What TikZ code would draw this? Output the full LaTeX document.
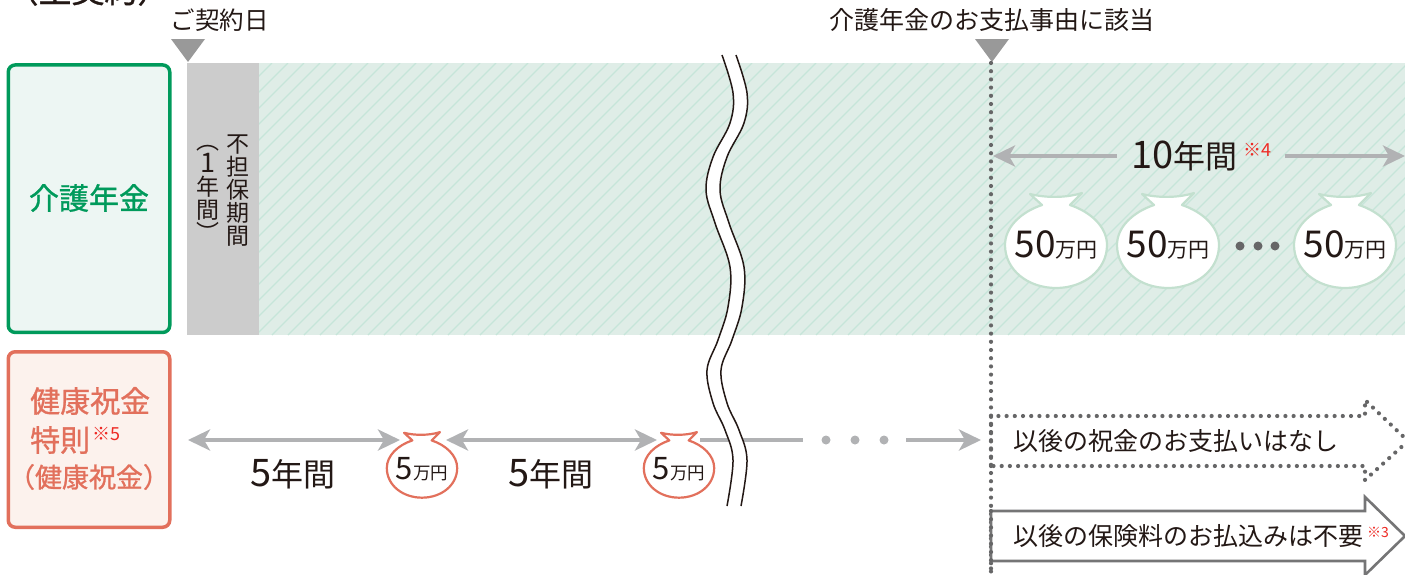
\documentclass[tikz,border=0pt]{standalone}
\usepackage{fontspec}
\usetikzlibrary{arrows.meta}
\setmainfont{Noto Sans CJK JP}
\newfontfamily\digitfont[FakeStretch=1.0]{Noto Sans CJK JP}
\newfontfamily\midfont[FakeBold=1.0]{Noto Sans CJK JP}
\newcommand{\fsize}[1]{\fontsize{#1}{#1}\selectfont}
\definecolor{inkblack}{HTML}{231815}
\definecolor{carebox}{HTML}{009A5B}
\definecolor{carefill}{HTML}{EDF6F3}
\definecolor{careband}{HTML}{DFEDE7}
\definecolor{carehatch}{HTML}{C6E5D9}
\definecolor{bagline}{HTML}{C3E0CF}
\definecolor{giftbox}{HTML}{E2705C}
\definecolor{giftfill}{HTML}{FCF2ED}
\definecolor{spangray}{HTML}{B1B2B4}
\definecolor{dotgray}{HTML}{666667}
\definecolor{notered}{HTML}{EE2A24}
\tikzset{
  every node/.style={text=inkblack, inner sep=0pt},
  spanline/.style={draw=spangray, line width=4.5pt},
  spanarrow/.style={spanline, {Stealth[length=22pt,width=21pt,inset=6pt]}-{Stealth[length=22pt,width=21pt,inset=6pt]}},
  spanto/.style={spanline, -{Stealth[length=22pt,width=21pt,inset=6pt]}},
  dotline/.style={draw=dotgray, line width=4.2pt, line cap=round, dash pattern=on 0pt off 8.2pt},
  planbox/.style={rounded corners=7pt, line width=3.5pt, minimum width=161.5pt},
  marktri/.style={fill=black!40, draw=none},
  bagbody/.style={fill=white, draw=bagline, line width=2.2pt, line join=round},
  gray dot/.style={circle, fill=#1, minimum size=9pt},
  banner/.style={anchor=west, font=\fsize{25}},
  notemark/.style={text=notered, font=\fsize{18}}
}
% bag outline, centre of the body at #1, size #2
\newcommand{\moneybag}[3][bagbody]{
  \draw[#1, shift={(#2)}, scale=#3] (-26,-51) .. controls (-10,-47) and (10,-47) .. (26,-52)
    -- (14,-40) .. controls (35,-33) and (51,-18) .. (51,0)
    .. controls (51,25) and (28,43) .. (0,43) .. controls (-28,43) and (-51,25) .. (-51,0)
    .. controls (-51,-18) and (-35,-33) .. (-14,-40) -- cycle;
}
\begin{document}
\begin{tikzpicture}[x=1pt,y=-1pt]
  \path[use as bounding box, clip] (0,0) rectangle (1405,574);

  % top labels
  \node[font=\midfont\fsize{33}] (plan) at (88,-10) {（主契約）};
  \node[font=\fsize{24.5}, anchor=west] (signdate) at (170.5,20) {ご契約日};
  \node[font=\fsize{25}] (paydate) at (992,20) {介護年金のお支払事由に該当};
  \draw[marktri] (171,39) -- (205,39) -- (188,62) -- cycle;
  \draw[marktri] (975,39) -- (1009,39) -- (992,62) -- cycle;

  % left boxes
  \node[planbox, draw=carebox, fill=carefill, minimum height=267.5pt] (carename) at (89,198.7) {};
  \node[font=\midfont\fsize{30}, text=carebox] (caretext) at (89,198) {介護年金};
  \node[planbox, draw=giftbox, fill=giftfill, minimum height=175.5pt] (giftname) at (89,439.5) {};
  \node[font=\midfont\fsize{30}, text=giftbox, anchor=west] (gifttexta) at (30,401) {健康祝金};
  \node[font=\midfont\fsize{30}, text=giftbox, anchor=west] (gifttextb) at (30,440) {特則};
  \node[notemark, anchor=west] (giftnote) at (92,434) {※5};
  \node[font=\midfont\fsize{27}, text=giftbox] (gifttextc) at (89,477) {（健康祝金）};

  % band with hatching
  \fill[careband] (187,63) rectangle (1405,335);
  \begin{scope}
    \clip (259,63) rectangle (1405,335);
    \foreach \x in {0,16,...,1450}
      \draw[carehatch, line width=1.1pt] (\x,335) -- (\x+272,63);
  \end{scope}
  \fill[black!20] (187,63) rectangle (259,335);
  \node[font=\fsize{23}, align=center] (waita) at (238,191) {不\\担\\保\\期\\間};
  \node[font=\fsize{23}, align=center] (waitb) at (208,193) {︵\\{\fsize{27}1}\\年\\間\\︶};

  % payout row
  \coordinate (tenleft) at (993,156);
  \coordinate (tenright) at (1405,156);
  \coordinate (tenstop) at (1117,156);
  \coordinate (tenstart) at (1285,156);
  \draw[spanline, {Stealth[length=22pt,width=21pt,inset=6pt]}-] (tenleft) -- (tenstop);
  \draw[spanto] (tenstart) -- (tenright);
  \node[anchor=west] (tenyears) at (1131,156) {\fsize{38}\digitfont 10\fsize{32}\rmfamily 年間};
  \node[notemark, anchor=west] (tennote) at (1243,150) {※4};
  \moneybag{1056,245}{1}
  \moneybag{1168,245}{1}
  \moneybag{1345,245}{1}
  \foreach \name/\x in {baga/1056, bagb/1168, bagc/1345}
    \node (\name) at (\x,245) {\fsize{37}\digitfont 50\fsize{21}\rmfamily 万円};
  \foreach \name/\x in {moredota/1240, moredotb/1258, moredotc/1275}
    \node[gray dot=dotgray] (\name) at (\x,246) {};

  % bonus row
  \coordinate (gifta) at (188,440);
  \coordinate (giftb) at (400,440);
  \coordinate (giftc) at (446,440);
  \coordinate (giftd) at (657,440);
  \coordinate (gifte) at (700,440);
  \coordinate (giftf) at (803,440);
  \coordinate (giftg) at (906,440);
  \coordinate (gifth) at (981,440);
  \draw[spanarrow] (gifta) -- (giftb);
  \draw[spanarrow] (giftc) -- (giftd);
  \draw[spanline] (gifte) -- (giftf);
  \draw[spanto] (giftg) -- (gifth);
  \foreach \name/\x in {restdota/826, restdotb/855, restdotc/884}
    \node[gray dot=spangray] (\name) at (\x,440) {};
  \moneybag[bagbody, draw=giftbox]{422,468}{0.69}
  \moneybag[bagbody, draw=giftbox]{679,468}{0.69}
  \node (smallbaga) at (422,469) {\fsize{31}\digitfont 5\fsize{17.5}\rmfamily 万円};
  \node (smallbagb) at (679,469) {\fsize{31}\digitfont 5\fsize{17.5}\rmfamily 万円};
  \node (fiveyearsa) at (293,474) {\fsize{38}\digitfont 5\fsize{32}\rmfamily 年間};
  \node (fiveyearsb) at (551,474) {\fsize{38}\digitfont 5\fsize{32}\rmfamily 年間};

  % break mark, drawn over band and row
  \def\breakleft{(722,55) (733,93) (730,123) (713,157) (706,190) (715,223)
      (730,267) (728,307) (718,340) (707,370) (713,403) (725,430) (733,460) (727,506)}
  \def\breakright{(741,506) (747,460) (739,430) (727,403) (721,370) (732,340) (742,307)
      (744,267) (729,223) (720,190) (727,157) (744,123) (747,93) (736,55)}
  \fill[white] plot[smooth, tension=0.6] coordinates {\breakleft} -- plot[smooth, tension=0.6] coordinates {\breakright} -- cycle;
  \draw[inkblack, line width=1.5pt] plot[smooth, tension=0.6] coordinates {\breakleft};
  \draw[inkblack, line width=1.5pt] plot[smooth, tension=0.6] coordinates {\breakright};

  % due date line and the two notes
  \draw[dotline] (991,63) -- (991,572);
  \draw[dotline] (991,466) -- (991,416) -- (1365,416) -- (1365,400) -- (1408,441) -- (1365,480) -- (1365,466) -- cycle;
  \node[banner] (nomore) at (1013,441) {以後の祝金のお支払いはなし};
  \draw[draw=dotgray!90, fill=white, line width=2.6pt, line join=miter]
    (991,511) -- (1365,511) -- (1365,497) -- (1405,536) -- (1365,575) -- (1365,561) -- (991,561) -- cycle;
  \draw[dotline] (991,511) -- (991,572);
  \node[banner] (nofee) at (1013,536) {以後の保険料のお払込みは不要};
  \node[notemark, anchor=west, font=\fsize{14}] (feenote) at (1367,532) {※3};
\end{tikzpicture}
\end{document}
